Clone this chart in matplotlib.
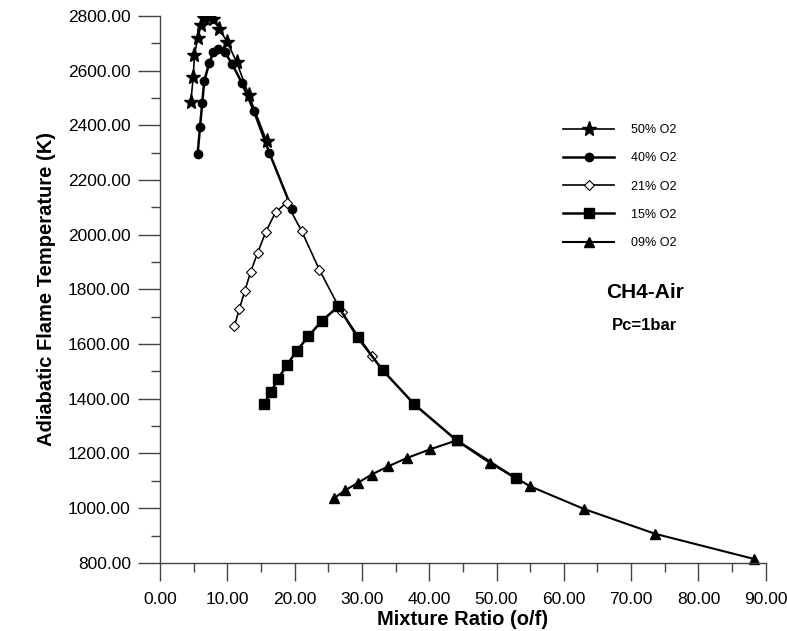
import matplotlib
matplotlib.use("Agg")
import matplotlib.pyplot as plt
from matplotlib.ticker import MultipleLocator, FormatStrFormatter

plt.rcParams['font.family'] = ['Liberation Sans', 'DejaVu Sans']

# mixture ratio (o/f) and adiabatic flame temperature (K) for each O2 level
mr_50 = [4.56, 4.95, 5.10, 5.60, 6.09, 6.58, 7.28, 7.92, 8.81, 10.0, 11.39, 13.2, 15.85]
t_50 = [2487, 2576, 2656, 2719, 2766, 2793, 2796, 2790, 2753, 2705, 2631, 2511, 2342]

mr_40 = [5.60, 5.94, 6.28, 6.58, 7.32, 7.92, 8.66, 9.65, 10.74, 12.13, 13.96, 16.23, 19.6]
t_40 = [2297, 2393, 2483, 2564, 2628, 2668, 2680, 2667, 2624, 2557, 2452, 2301, 2095]

mr_21 = [11.04, 11.78, 12.62, 13.47, 14.51, 15.70, 17.18, 18.8, 21.04, 23.66, 27.0, 31.5]
t_21 = [1665, 1728, 1796, 1865, 1934, 2010, 2083, 2117, 2014, 1873, 1716, 1557]

mr_15 = [15.49, 16.49, 17.58, 18.87, 20.3, 22.03, 24.0, 26.49, 29.36, 33.08, 37.78, 44.07, 52.87]
t_15 = [1380, 1426, 1474, 1524, 1575, 1628, 1684, 1738, 1625, 1505, 1380, 1248, 1109]

mr_09 = [25.89, 27.48, 29.36, 31.44, 33.91, 36.73, 40.1, 44.07, 48.99, 55.0, 63.0, 73.6, 88.3]
t_09 = [1037, 1065, 1092, 1123, 1153, 1184, 1215, 1248, 1166, 1080, 997, 906, 814]

fig = plt.figure(figsize=(7.87, 6.31), dpi=100)
ax = fig.add_axes([0.2033, 0.108, 0.7697, 0.8665])

ax.plot(mr_50, t_50, color='black', lw=1.2, marker='*', ms=11, label='50% O2')
ax.plot(mr_40, t_40, color='black', lw=1.8, marker='o', ms=6, label='40% O2')
ax.plot(mr_21, t_21, color='black', lw=1.2, marker='D', ms=5.5, mfc='white', mew=0.8, label='21% O2')
ax.plot(mr_15, t_15, color='black', lw=1.8, marker='s', ms=6.5, label='15% O2')
ax.plot(mr_09, t_09, color='black', lw=1.5, marker='^', ms=7.5, label='09% O2', clip_on=False)

ax.set_xlim(0, 90)
ax.set_ylim(800, 2800)
ax.xaxis.set_major_locator(MultipleLocator(10))
ax.xaxis.set_minor_locator(MultipleLocator(5))
ax.yaxis.set_major_locator(MultipleLocator(200))
ax.yaxis.set_minor_locator(MultipleLocator(100))
ax.xaxis.set_major_formatter(FormatStrFormatter('%.2f'))
ax.yaxis.set_major_formatter(FormatStrFormatter('%.2f'))

for s in ['top', 'right']:
    ax.spines[s].set_visible(False)
for s in ['left', 'bottom']:
    ax.spines[s].set_color('#444444')
    ax.spines[s].set_linewidth(1.0)

ax.tick_params(axis='x', which='major', direction='out', length=13, width=1, colors='#444444', labelcolor='black', labelsize=12.5, pad=8)
ax.tick_params(axis='x', which='minor', direction='out', length=6.5, width=1, colors='#444444')
ax.tick_params(axis='y', which='major', direction='out', length=16, width=1, colors='#444444', labelcolor='black', labelsize=12.5, pad=5)
ax.tick_params(axis='y', which='minor', direction='out', length=6.5, width=1, colors='#444444')

ax.set_xlabel('Mixture Ratio (o/f)', fontsize=14.5, fontweight='bold', labelpad=2)
ax.set_ylabel('Adiabatic Flame Temperature (K)', fontsize=14.5, fontweight='bold', labelpad=9)

ax.legend(loc='upper left', bbox_to_anchor=(0.647, 0.823), frameon=False, fontsize=9,
          handlelength=4.1, labelspacing=1.3, handletextpad=1.35, borderpad=0.4)

ax.text(0.8, 0.495, 'CH4-Air', transform=ax.transAxes, fontsize=15, fontweight='bold', ha='center', va='center')
ax.text(0.8, 0.435, 'Pc=1bar', transform=ax.transAxes, fontsize=12, fontweight='bold', ha='center', va='center')

fig.savefig('out.png', dpi=100)
